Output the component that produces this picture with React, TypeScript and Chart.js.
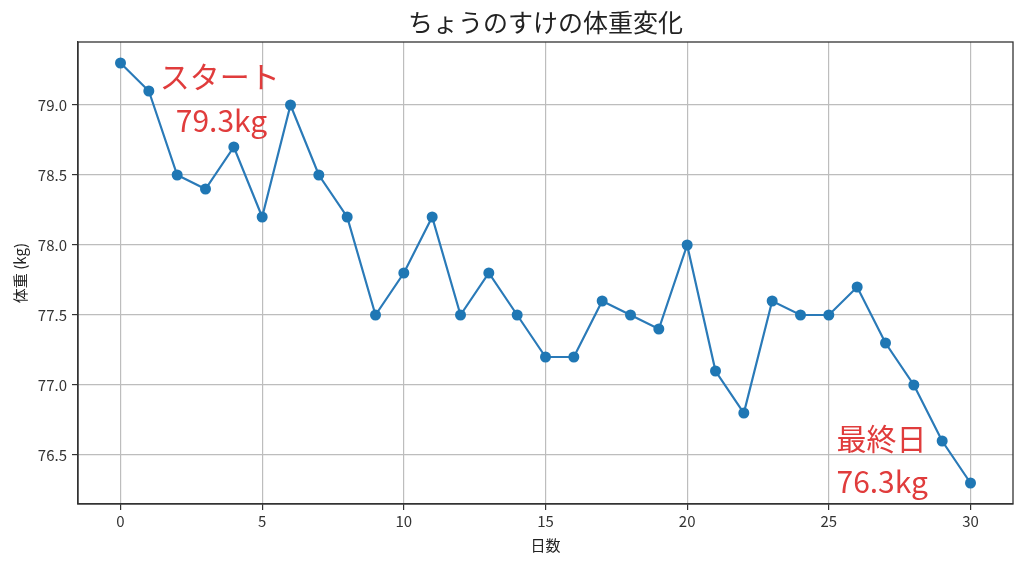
import React, { useEffect, useRef } from "react";
import { Chart, registerables } from "chart.js";

Chart.register(...registerables);

const days: number[] = Array.from({ length: 31 }, (_, i) => i);
const weights: number[] = [
  79.3, 79.1, 78.5, 78.4, 78.7, 78.2, 79.0, 78.5, 78.2, 77.5,
  77.8, 78.2, 77.5, 77.8, 77.5, 77.2, 77.2, 77.6, 77.5, 77.4,
  78.0, 77.1, 76.8, 77.6, 77.5, 77.5, 77.7, 77.3, 77.0, 76.6, 76.3,
];
const xTicks: number[] = [0, 5, 10, 15, 20, 25, 30];
const yTicks: number[] = [76.5, 77.0, 77.5, 78.0, 78.5, 79.0];

const titleText = "ちょうのすけの体重変化";
const xLabel = "日数";
const yLabel = "体重 (kg)";
const startLines = ["スタート", "79.3kg"];
const endLines = ["最終日", "76.3kg"];

const FONT = '"Noto Sans CJK JP", "Noto Sans", sans-serif';

export default function App() {
  const ref = useRef<HTMLCanvasElement | null>(null);

  useEffect(() => {
    document.body.style.margin = "0";
    const canvas = ref.current!;
    const overlay = {
      id: "overlay",
      afterDraw(chart: any) {
        const ctx = chart.ctx as CanvasRenderingContext2D;
        const a = chart.chartArea;
        const xs = chart.scales.x;
        const ys = chart.scales.y;
        ctx.save();
        // frame
        ctx.strokeStyle = "#333333";
        ctx.lineWidth = 1.3;
        ctx.strokeRect(a.left, a.top, a.right - a.left, a.bottom - a.top);
        // title
        ctx.fillStyle = "#222222";
        ctx.font = `25px ${FONT}`;
        ctx.textAlign = "center";
        ctx.textBaseline = "middle";
        ctx.fillText(titleText, (a.left + a.right) / 2, 22);
        // axis labels
        ctx.font = `15px ${FONT}`;
        ctx.fillText(xLabel, (a.left + a.right) / 2, 545);
        ctx.save();
        ctx.translate(20, (a.top + a.bottom) / 2);
        ctx.rotate(-Math.PI / 2);
        ctx.fillText(yLabel, 0, 0);
        ctx.restore();
        // annotations
        ctx.fillStyle = "#e03c3c";
        ctx.font = `30px ${FONT}`;
        ctx.textAlign = "center";
        ctx.fillText(startLines[0], xs.getPixelForValue(3.5), ys.getPixelForValue(79.2));
        ctx.textAlign = "left";
        ctx.fillText(startLines[1], xs.getPixelForValue(1.95), ys.getPixelForValue(78.89));
        ctx.fillText(endLines[0], xs.getPixelForValue(25.27), ys.getPixelForValue(76.62));
        ctx.fillText(endLines[1], xs.getPixelForValue(25.27), ys.getPixelForValue(76.31));
        ctx.restore();
      },
    };

    const chart = new Chart(canvas, {
      type: "line",
      data: {
        datasets: [
          {
            data: days.map((d, i) => ({ x: d, y: weights[i] })),
            borderColor: "#2a7ab8",
            backgroundColor: "#1f77b4",
            borderWidth: 2.2,
            pointRadius: 5.5,
            pointHoverRadius: 5.5,
            pointBorderWidth: 0,
            tension: 0,
          },
        ],
      },
      options: {
        animation: false,
        responsive: false,
        layout: { padding: { top: 42, right: 11, left: 0, bottom: 0 } },
        plugins: { legend: { display: false }, tooltip: { enabled: false }, title: { display: false } },
        scales: {
          x: {
            type: "linear",
            min: -1.5,
            max: 31.5,
            afterBuildTicks: (s: any) => {
              s.ticks = xTicks.map((v) => ({ value: v }));
            },
            afterFit: (s: any) => {
              s.height = 57;
            },
            grid: { color: "#bdbdbd", lineWidth: 1.2, tickColor: "#333333", tickLength: 6, drawTicks: true },
            border: { display: true, color: "#333333", width: 1.3 },
            ticks: {
              color: "#333333",
              font: { family: FONT, size: 15 },
              padding: 2,
              maxRotation: 0,
              callback: (v: any) => String(v),
            },
          },
          y: {
            type: "linear",
            min: 76.15,
            max: 79.45,
            afterBuildTicks: (s: any) => {
              s.ticks = yTicks.map((v) => ({ value: v }));
            },
            afterFit: (s: any) => {
              s.width = 78;
            },
            grid: { color: "#bdbdbd", lineWidth: 1.2, tickColor: "#333333", tickLength: 6, drawTicks: true },
            border: { display: true, color: "#333333", width: 1.3 },
            ticks: {
              color: "#333333",
              font: { family: FONT, size: 15 },
              padding: 5,
              callback: (v: any) => Number(v).toFixed(1),
            },
          },
        },
      },
      plugins: [overlay],
    } as any);
    return () => chart.destroy();
  }, []);

  return (
    <div style={{ position: "fixed", left: 0, top: 0, width: 1024, height: 561, background: "#fff" }}>
      <canvas ref={ref} width={1024} height={561} style={{ width: 1024, height: 561, display: "block" }} />
    </div>
  );
}
